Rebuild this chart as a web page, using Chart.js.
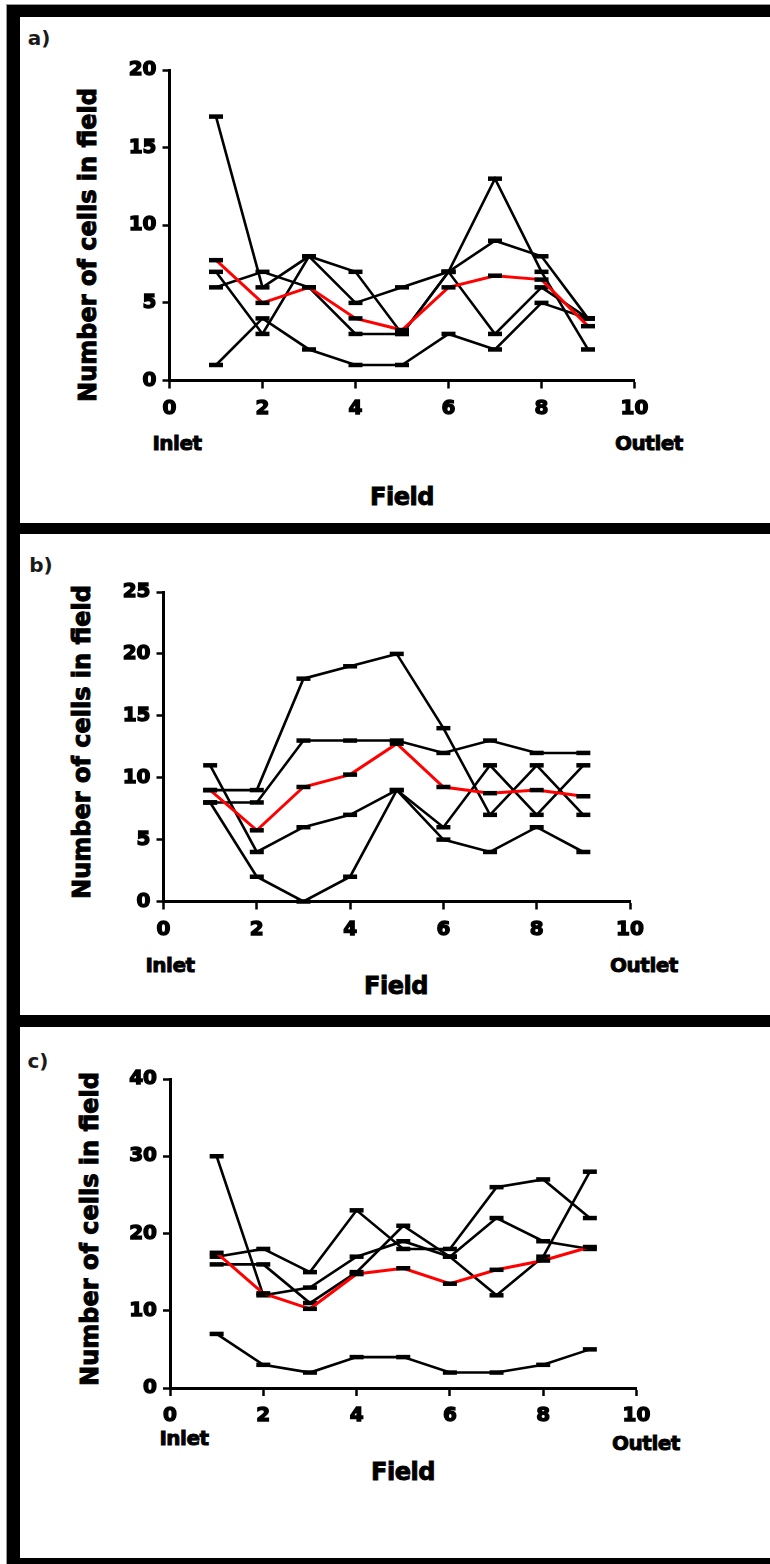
<!DOCTYPE html>
<html>
<head>
<meta charset="utf-8">
<script src="https://cdn.jsdelivr.net/npm/chart.js@4.4.1/dist/chart.umd.min.js"></script>
<style>
  html, body { margin:0; padding:0; background:#fff; }
  #page { position:relative; width:770px; height:1564px; overflow:hidden; background:#fff; font-family:"DejaVu Sans", sans-serif; }
  .bar { position:absolute; background:#000; }
  .gl { position:absolute; background:#9a9a9a; }
  .t { position:absolute; font-weight:bold; color:#000; white-space:nowrap; transform:translate(-50%,-50%); line-height:1; -webkit-text-stroke:0.9px #000; letter-spacing:-0.5px; }
  .ytitle { position:absolute; font-weight:bold; color:#000; white-space:nowrap; line-height:1; transform:translate(-50%,-50%) rotate(-90deg); font-size:24px; -webkit-text-stroke:1px #000; }
  .lbl { position:absolute; font-weight:bold; color:#1a1a1a; font-size:20px; line-height:1; transform:translate(-50%,-50%); }
  canvas { position:absolute; }
</style>
</head>
<body>
<div id="page">
  <div class="gl" style="left:6px;top:4px;width:764px;height:1px;"></div>
  <div class="gl" style="left:6px;top:4px;width:1px;height:1560px;"></div>
  <div class="bar" style="left:7px;top:5px;width:13px;height:1559px;"></div>
  <div class="bar" style="left:7px;top:5px;width:763px;height:12px;"></div>
  <div class="bar" style="left:7px;top:523px;width:763px;height:11px;"></div>
  <div class="bar" style="left:7px;top:1015px;width:763px;height:12px;"></div>
  <div class="bar" style="left:7px;top:1558px;width:763px;height:6px;"></div>

  <div class="lbl" style="left:39px;top:38px;">a)</div>
  <div class="lbl" style="left:41px;top:565px;">b)</div>
  <div class="lbl" style="left:38px;top:1061px;">c)</div>

  <div class="ytitle" style="left:88px;top:245px;">Number of cells in field</div>
  <div class="ytitle" style="left:82px;top:742px;">Number of cells in field</div>
  <div class="ytitle" style="left:90px;top:1229px;">Number of cells in field</div>

  <div class="t" style="left:177px;top:443px;font-size:20px;">Inlet</div>
  <div class="t" style="left:649px;top:443px;font-size:20px;">Outlet</div>
  <div class="t" style="left:402px;top:497px;font-size:24px;">Field</div>

  <div class="t" style="left:170px;top:965px;font-size:20px;">Inlet</div>
  <div class="t" style="left:644px;top:965px;font-size:20px;">Outlet</div>
  <div class="t" style="left:396px;top:986px;font-size:24px;">Field</div>

  <div class="t" style="left:184px;top:1438px;font-size:20px;">Inlet</div>
  <div class="t" style="left:646px;top:1443px;font-size:20px;">Outlet</div>
  <div class="t" style="left:403px;top:1472px;font-size:24px;">Field</div>

  <canvas id="ca"></canvas>
  <canvas id="cb"></canvas>
  <canvas id="cc"></canvas>
</div>
<script>
// ---------- DATA ----------
const fields = [1, 2, 3, 4, 5, 6, 7, 8, 9];
const xTicks = [0, 2, 4, 6, 8, 10];

// Panel a
const aTicksY = [0, 5, 10, 15, 20];
const aRun1 = [17, 6, 8, 7, 3, 7, 13, 7, 2];
const aRun2 = [7, 3, 8, 5, 6, 7, 9, 8, 4];
const aRun3 = [6, 7, 6, 3, 3, 7, 3, 6, 4];
const aRun4 = [1, 4, 2, 1, 1, 3, 2, 5, 4];
const aMean = [7.75, 5, 6, 4, 3.25, 6, 6.75, 6.5, 3.5];

// Panel b
const bTicksY = [0, 5, 10, 15, 20, 25];
const bRun1 = [9, 9, 18, 19, 20, 14, 7, 11, 7];
const bRun2 = [8, 8, 13, 13, 13, 12, 13, 12, 12];
const bRun3 = [11, 4, 6, 7, 9, 6, 11, 7, 11];
const bRun4 = [8, 2, 0, 2, 9, 5, 4, 6, 4];
const bMean = [9, 5.75, 9.25, 10.25, 12.75, 9.25, 8.75, 9, 8.5];

// Panel c
const cTicksY = [0, 10, 20, 30, 40];
const cRun1 = [17, 18, 15, 23, 18, 18, 26, 27, 22];
const cRun2 = [30, 12, 13, 17, 19, 17, 22, 19, 18];
const cRun3 = [16, 16, 11, 15, 21, 17, 12, 17, 28];
const cRun4 = [7, 3, 2, 4, 4, 2, 2, 3, 5];
const cMean = [17.5, 12.25, 10.25, 14.75, 15.5, 13.5, 15.3, 16.5, 18.25];

// ---------- DRAWING ----------
const FONT = "'DejaVu Sans', sans-serif";

function pts(vals) { return fields.map((f, i) => ({ x: f, y: vals[i] })); }

function makePanel(id, area, yTicks, runs, mean) {
  const padL = 80, padT = 20, padR = 40, padB = 70;
  const cl = Math.floor(area.l - padL);
  const ct = Math.floor(area.t - padT);
  const cw = Math.ceil(area.r + padR) - cl;
  const ch = Math.ceil(area.b + padB) - ct;
  const cv = document.getElementById(id);
  cv.style.left = cl + 'px';
  cv.style.top = ct + 'px';
  cv.width = cw; cv.height = ch;
  cv.style.width = cw + 'px'; cv.style.height = ch + 'px';
  const yW = area.l - cl;
  const topPad = area.t - ct;
  const rightPad = cl + cw - area.r;
  const xH = ct + ch - area.b;

  const datasets = [];
  datasets.push({
    data: pts(mean), borderColor: '#ff0000', borderWidth: 3,
    pointStyle: 'line', pointRadius: 7, pointBorderColor: '#000', pointBorderWidth: 4.5,
    pointBackgroundColor: '#000', tension: 0, clip: false, order: 0
  });
  runs.forEach(r => datasets.push({
    data: pts(r), borderColor: '#000', borderWidth: 2.6,
    pointStyle: 'line', pointRadius: 7, pointBorderColor: '#000', pointBorderWidth: 4.5,
    pointBackgroundColor: '#000', tension: 0, clip: false, order: 1
  }));

  const tickFont = { family: FONT, size: 20, weight: 'bold' };
  new Chart(cv, {
    type: 'line',
    data: { datasets },
    options: {
      responsive: false, animation: false, devicePixelRatio: 1,
      layout: { padding: { left: 0, top: topPad, right: rightPad, bottom: 0 } },
      plugins: { legend: { display: false }, tooltip: { enabled: false } },
      scales: {
        x: {
          type: 'linear', min: 0, max: 10,
          afterBuildTicks: s => { s.ticks = xTicks.map(v => ({ value: v })); },
          afterFit: s => { s.height = xH; },
          grid: { drawOnChartArea: false, drawTicks: true, tickLength: 8, tickWidth: 2.5, tickColor: '#000' },
          border: { display: true, color: '#000', width: 3 },
          ticks: { color: '#000', font: tickFont, padding: 8, maxRotation: 0, textStrokeColor: '#000', textStrokeWidth: 1.4 }
        },
        y: {
          type: 'linear', min: 0, max: yTicks[yTicks.length - 1],
          afterBuildTicks: s => { s.ticks = yTicks.map(v => ({ value: v })); },
          afterFit: s => { s.width = yW; },
          grid: { drawOnChartArea: false, drawTicks: true, tickLength: 7, tickWidth: 2.5, tickColor: '#000' },
          border: { display: true, color: '#000', width: 3 },
          ticks: { color: '#000', font: tickFont, padding: 6, textStrokeColor: '#000', textStrokeWidth: 1.4 }
        }
      }
    }
  });
}

makePanel('ca', { l: 169.5, r: 634.5, t: 70, b: 380.5 }, aTicksY, [aRun1, aRun2, aRun3, aRun4], aMean);
makePanel('cb', { l: 163.5, r: 630, t: 592, b: 901.5 }, bTicksY, [bRun1, bRun2, bRun3, bRun4], bMean);
makePanel('cc', { l: 170, r: 636.5, t: 1079, b: 1388 }, cTicksY, [cRun1, cRun2, cRun3, cRun4], cMean);
</script>
</body>
</html>
